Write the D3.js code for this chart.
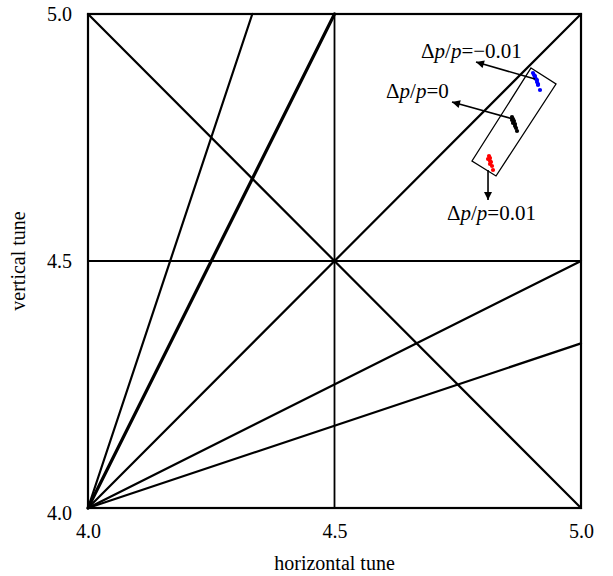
<!DOCTYPE html>
<html><head><meta charset="utf-8">
<script src="https://cdn.jsdelivr.net/npm/d3@7"></script>
<style>body{margin:0;background:#fff}svg{display:block}text{font-family:"Liberation Serif","Times New Roman",serif}</style>
</head><body><svg id="c" width="613" height="576"></svg>
<script>
const xTicks = [4.0, 4.5, 5.0];
const yTicks = [4.0, 4.5, 5.0];
const tickLabels = ["4.0", "4.5", "5.0"];
// resonance lines: [x1, y1, x2, y2, weight]
const resonanceLines = [
  [4.0, 5.0, 5.0, 4.0, 2.2],
  [4.0, 4.0, 5.0, 5.0, 2.2],
  [4.5, 4.0, 4.5, 5.0, 1.8],
  [4.0, 4.5, 5.0, 4.5, 1.8],
  [4.0, 4.0, 4.5, 5.0, 3.2],
  [4.0, 4.0, 4.3333, 5.0, 2.2],
  [4.0, 4.0, 5.0, 4.5, 2.2],
  [4.0, 4.0, 5.0, 4.3333, 2.2]
];
const bluePts = [[4.9026,4.8806],[4.9047,4.8765],[4.9067,4.8745],[4.9067,4.8704],[4.9087,4.8684],[4.9108,4.8664],[4.9108,4.8623],[4.9128,4.8583],[4.9128,4.8563],[4.9168,4.8462]];
const blackPts = [[4.8600,4.7915],[4.8621,4.7874],[4.8600,4.7854],[4.8641,4.7834],[4.8621,4.7794],[4.8661,4.7773],[4.8661,4.7733],[4.8682,4.7692],[4.8702,4.7632]];
const redPts = [[4.8134,4.7126],[4.8154,4.7085],[4.8114,4.7065],[4.8154,4.7024],[4.8174,4.7004],[4.8154,4.6964],[4.8195,4.6923],[4.8215,4.6842]];
const boxCorners = [[4.8986,4.8907],[4.9493,4.8583],[4.8276,4.6721],[4.7789,4.7024]];
const arrows = [
  [4.9067,4.8684,4.7870,4.9028],
  [4.8621,4.7874,4.7383,4.8219],
  [4.8114,4.6842,4.8114,4.6235]
];
const labels = [
  {t:"=\u22120.01", x:4.6755, y:4.911},
  {t:"=0", x:4.6045, y:4.830},
  {t:"=0.01", x:4.7282, y:4.583}
];

const svg = d3.select("#c");
const L=88, R=581, T=14, B=508;
const x = d3.scaleLinear().domain([4,5]).range([L,R]);
const y = d3.scaleLinear().domain([4,5]).range([B,T]);

const defs = svg.append("defs");
defs.append("marker").attr("id","ah").attr("viewBox","0 0 10 10").attr("refX",10).attr("refY",5)
  .attr("markerWidth",11).attr("markerHeight",8).attr("markerUnits","userSpaceOnUse").attr("orient","auto")
  .append("path").attr("d","M0,0L10,5L0,10Z").attr("fill","#000");

svg.selectAll("line.res").data(resonanceLines).join("line").attr("class","res")
  .attr("x1",d=>x(d[0])).attr("y1",d=>y(d[1])).attr("x2",d=>x(d[2])).attr("y2",d=>y(d[3]))
  .attr("stroke","#000").attr("stroke-width",d=>d[4]).attr("stroke-linecap","round");

svg.append("rect").attr("x",L).attr("y",T).attr("width",R-L).attr("height",B-T)
  .attr("fill","none").attr("stroke","#000").attr("stroke-width",2.2);

const xa = svg.append("g").attr("transform",`translate(0,${B})`)
  .call(d3.axisBottom(x).tickValues(xTicks).tickSize(0).tickPadding(16).tickFormat((d,i)=>tickLabels[i]));
const ya = svg.append("g").attr("transform",`translate(${L},0)`)
  .call(d3.axisLeft(y).tickValues(yTicks).tickSize(0).tickPadding(16).tickFormat((d,i)=>tickLabels[i]));
[xa,ya].forEach(a=>{a.select(".domain").remove();a.selectAll("text").attr("font-size",20).attr("font-family","Liberation Serif").attr("fill","#000");});
ya.selectAll(".tick").filter(d=>d===4).select("text").attr("dy","0.55em");

svg.append("text").attr("x",(L+R)/2).attr("y",570).attr("text-anchor","middle").attr("font-size",20).text("horizontal tune");
svg.append("text").attr("transform",`translate(25,${(T+B)/2}) rotate(-90)`).attr("text-anchor","middle").attr("font-size",20).text("vertical tune");

svg.append("polygon").attr("points",boxCorners.map(d=>[x(d[0]),y(d[1])].join(",")).join(" "))
  .attr("fill","none").attr("stroke","#000").attr("stroke-width",1.3);

[[bluePts,"#0000ff"],[blackPts,"#000"],[redPts,"#ff0000"]].forEach(([pts,c])=>{
  svg.append("g").selectAll("circle").data(pts).join("circle")
    .attr("cx",d=>x(d[0])).attr("cy",d=>y(d[1])).attr("r",2.1).attr("fill",c);
});

svg.selectAll("line.arr").data(arrows).join("line").attr("class","arr")
  .attr("x1",d=>x(d[0])).attr("y1",d=>y(d[1])).attr("x2",d=>x(d[2])).attr("y2",d=>y(d[3]))
  .attr("stroke","#000").attr("stroke-width",1.6).attr("marker-end","url(#ah)");

labels.forEach(l=>{
  const t = svg.append("text").attr("x",x(l.x)).attr("y",y(l.y)).attr("font-size",21);
  t.append("tspan").text("\u0394");
  t.append("tspan").attr("font-style","italic").text("p");
  t.append("tspan").text("/");
  t.append("tspan").attr("font-style","italic").text("p");
  t.append("tspan").text(l.t);
});
</script></body></html>
